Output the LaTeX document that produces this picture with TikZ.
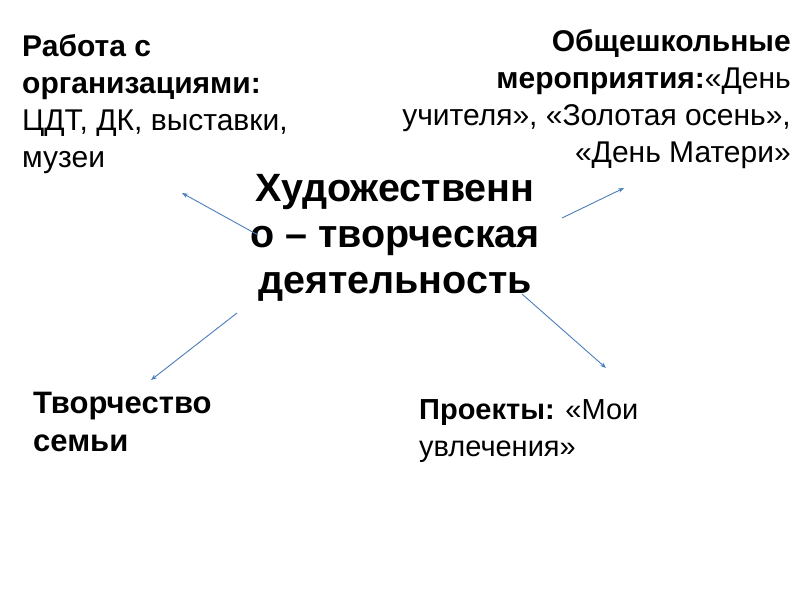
\documentclass[tikz,border=0pt]{standalone}
\usepackage{fontspec}
\setmainfont{Liberation Sans}
\usepackage{tikz}
\usetikzlibrary{arrows.meta,positioning}
\usepackage{xcolor}
\definecolor{LinkBlue}{HTML}{4A7EBB}

\begin{document}
\begin{tikzpicture}[
    x=1pt, y=-1pt,
    topic/.style={inner sep=0pt, font=\fontsize{30}{37}\selectfont, align=left},
    hub/.style={inner sep=0pt, font=\fontsize{39.5}{46}\selectfont\bfseries, align=center},
    arr/.style={-{Stealth[length=6pt,width=4.5pt]}, draw=LinkBlue, line width=0.9pt}
  ]
    \useasboundingbox (0,0) rectangle (800,600);

    \node[hub, anchor=north] (art) at (395, 174) {Художественн\\о -- творческая\\деятельность};

    \node[topic, anchor=north west] (org) at (22, 34) {\textbf{Работа с}\\\textbf{организациями:}\\ЦДТ, ДК, выставки,\\музеи};
    \node[topic, anchor=north east, align=right] (school) at (791, 29) {\textbf{Общешкольные}\\\textbf{мероприятия:}«День\\учителя», «Золотая осень»,\\«День Матери»};
    \node[topic, anchor=north west, font=\fontsize{31}{38}\selectfont] (family) at (33, 392) {\textbf{Творчество}\\\textbf{семьи}};
    \node[topic, anchor=north west, font=\fontsize{29}{37}\selectfont] (proj) at (419, 399) {\textbf{Проекты:} «Мои\\увлечения»};

    % arrow ends
    \coordinate (s1) at (258, 235);
    \coordinate (e1) at (182, 193);
    \coordinate (s2) at (562, 218);
    \coordinate (e2) at (624, 188);
    \coordinate (s3) at (237, 313);
    \coordinate (e3) at (151, 380);
    \coordinate (s4) at (522, 294);
    \coordinate (e4) at (606, 368);

    \draw[arr] (s1) -- (e1);
    \draw[arr] (s2) -- (e2);
    \draw[arr] (s3) -- (e3);
    \draw[arr] (s4) -- (e4);
  \end{tikzpicture}
\end{document}
